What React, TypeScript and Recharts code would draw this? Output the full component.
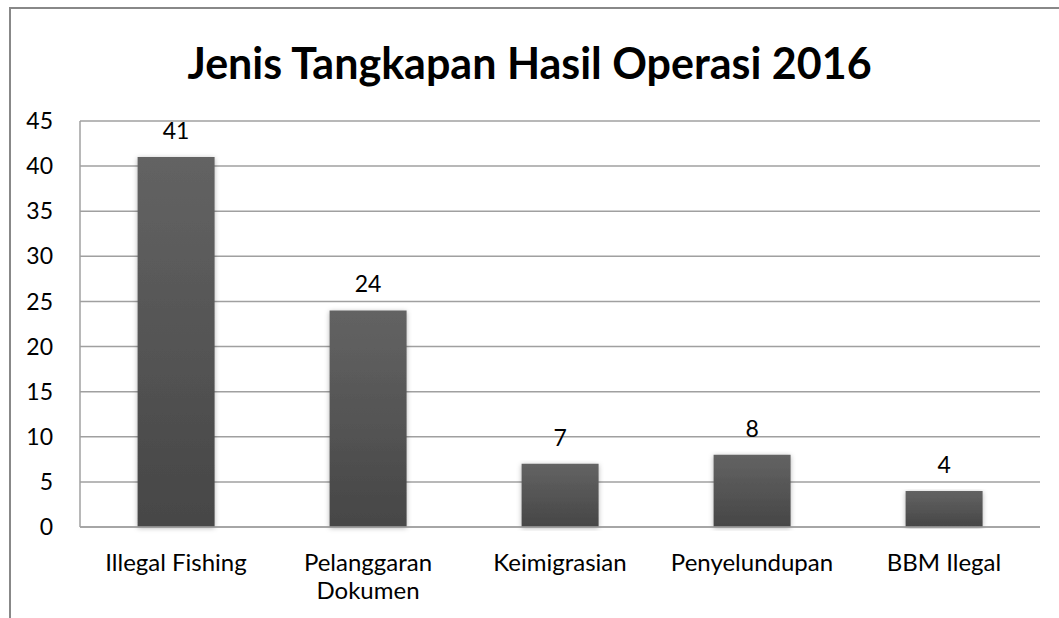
import React from 'react';
import { BarChart, Bar, XAxis, YAxis, CartesianGrid, LabelList } from 'recharts';

const categories = ['Illegal Fishing', 'Pelanggaran Dokumen', 'Keimigrasian', 'Penyelundupan', 'BBM Ilegal'];
const values = [41, 24, 7, 8, 4];
const tickLabels = [['Illegal Fishing'], ['Pelanggaran', 'Dokumen'], ['Keimigrasian'], ['Penyelundupan'], ['BBM Ilegal']];
const yTicks = [0, 5, 10, 15, 20, 25, 30, 35, 40, 45];

const data = categories.map((name, i) => ({ name, value: values[i] }));

const FONT = 'Lato, "Noto Sans", sans-serif';

const CategoryTick = (props: any) => {
  const { x, y, index } = props;
  const lines = tickLabels[index] || [];
  return (
    <text x={x} y={y} textAnchor="middle" fill="#000" fontSize={24} fontFamily={FONT}>
      {lines.map((l: string, i: number) => (
        <tspan key={i} x={x} dy={i === 0 ? 42 : 28}>{l}</tspan>
      ))}
    </text>
  );
};

export default function App() {
  return (
    <div style={{ position: 'absolute', left: 0, top: 0, width: 1059, height: 618, overflow: 'hidden', background: '#fff' }}>
      <div style={{ position: 'absolute', left: 9, top: 7, width: 1070, height: 640, border: '2px solid #888' }} />
      <div style={{ position: 'absolute', left: 0, top: 35, width: 1059, textAlign: 'center', fontFamily: FONT, fontWeight: 700, fontSize: 43, lineHeight: '56px', color: '#000' }}>
        Jenis Tangkapan Hasil Operasi 2016
      </div>
      <div style={{ position: 'absolute', left: 0, top: 0 }}>
        <BarChart width={1059} height={618} data={data} margin={{ top: 121, right: 19, bottom: 0, left: 0 }} barCategoryGap="30%">
          <defs>
            <linearGradient id="barFill" x1="0" y1="0" x2="0" y2="1">
              <stop offset="0%" stopColor="#636363" />
              <stop offset="100%" stopColor="#464646" />
            </linearGradient>
            <filter id="shadow" x="-20%" y="-5%" width="140%" height="110%">
              <feDropShadow dx="0" dy="1" stdDeviation="2.5" floodColor="#000" floodOpacity="0.3" />
            </filter>
          </defs>
          <CartesianGrid vertical={false} stroke="#a0a0a0" strokeWidth={1.5} />
          <XAxis
            dataKey="name"
            tick={<CategoryTick />}
            tickLine={false}
            tickSize={0}
            axisLine={{ stroke: '#a0a0a0', strokeWidth: 1.5 }}
            interval={0}
            height={91}
          />
          <YAxis
            domain={[0, 45]}
            ticks={yTicks}
            width={80}
            tickLine={false}
            tickSize={0}
            tickMargin={27}
            axisLine={{ stroke: '#a0a0a0', strokeWidth: 1.5 }}
            tick={{ fill: '#000', fontSize: 23, fontFamily: FONT }}
          />
          <Bar dataKey="value" fill="url(#barFill)" filter="url(#shadow)" isAnimationActive={false}>
            <LabelList dataKey="value" position="top" offset={18} fill="#000" fontSize={23} fontFamily={FONT} />
          </Bar>
        </BarChart>
      </div>
    </div>
  );
}
